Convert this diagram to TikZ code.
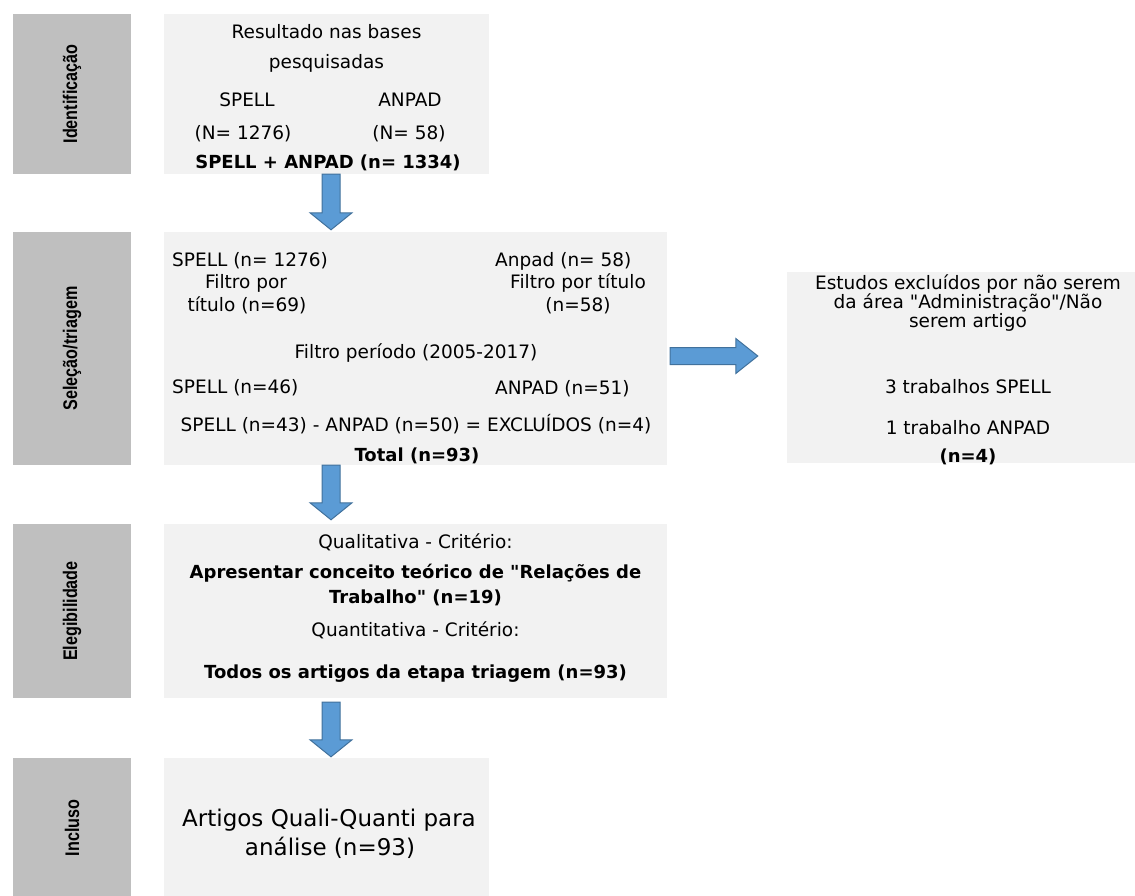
\documentclass[tikz,border=0pt]{standalone}
\usepackage{fontspec}
\setmainfont{DejaVu Sans}
\newfontfamily\bodyfont{DejaVu Sans}
\newfontfamily\narrowfont[FakeStretch=0.82]{Liberation Sans}
\usetikzlibrary{calc}

\definecolor{labelgray}{HTML}{BFBFBF}
\definecolor{panelgray}{HTML}{F2F2F2}
\definecolor{arrowfill}{HTML}{5B9BD5}
\definecolor{arrowline}{HTML}{41719C}

\tikzset{
  stagebox/.style={fill=labelgray, draw=none, inner sep=0pt},
  panel/.style={fill=panelgray, draw=none, inner sep=0pt},
  stagelabel/.style={rotate=90, inner sep=0pt, font=\narrowfont\bfseries\fontsize{19.7}{22}\selectfont},
  txt/.style={inner sep=0pt, text height=13.5pt, text depth=0pt, font=\bodyfont\fontsize{18.5}{22}\selectfont},
  txtb/.style={txt, font=\bodyfont\bfseries\fontsize{18}{22}\selectfont},
  txtbig/.style={inner sep=0pt, text height=16.8pt, text depth=0pt, font=\bodyfont\fontsize{23}{28}\selectfont},
  blockarrow/.style={fill=arrowfill, draw=arrowline, line width=1pt, line join=miter},
}

% seta larga para baixo: #1 topo, #2 ponta
\newcommand{\blockdown}[2]{%
  \draw[blockarrow] let \p1=#1, \p2=#2 in
    (\x1-9pt,\y1) -- (\x1+9pt,\y1) -- (\x1+9pt,\y2+17pt) -- (\x1+21pt,\y2+17pt)
    -- (\x1,\y2) -- (\x1-21pt,\y2+17pt) -- (\x1-9pt,\y2+17pt) -- cycle;}
% seta larga para a direita: #1 base, #2 ponta
\newcommand{\blockright}[2]{%
  \draw[blockarrow] let \p1=#1, \p2=#2 in
    (\x1,\y1-8.5pt) -- (\x2-22pt,\y1-8.5pt) -- (\x2-22pt,\y1-17.5pt) -- (\x2,\y1)
    -- (\x2-22pt,\y1+17.5pt) -- (\x2-22pt,\y1+8.5pt) -- (\x1,\y1+8.5pt) -- cycle;}

\begin{document}
\begin{tikzpicture}[x=1pt, y=-1pt]
  \useasboundingbox (0,0) rectangle (1135,895);

  % etapas (coluna esquerda)
  \node[stagebox, minimum width=118pt, minimum height=160pt] (s1) at (72,94) {};
  \node[stagebox, minimum width=118pt, minimum height=233pt] (s2) at (72,348.5) {};
  \node[stagebox, minimum width=118pt, minimum height=174pt] (s3) at (72,611) {};
  \node[stagebox, minimum width=118pt, minimum height=140pt] (s4) at (72,828) {};
  \node[stagelabel] (s1t) at (s1) {Identificação};
  \node[stagelabel] (s2t) at (s2) {Seleção/triagem};
  \node[stagelabel] (s3t) at (s3) {Elegibilidade};
  \node[stagelabel] (s4t) at (s4) {Incluso};

  % caixas de conteúdo
  \node[panel, minimum width=325pt, minimum height=160pt] (b1) at (326.5,94) {};
  \node[panel, minimum width=503pt, minimum height=233pt] (b2) at (415.5,348.5) {};
  \node[panel, minimum width=503pt, minimum height=174pt] (b3) at (415.5,611) {};
  \node[panel, minimum width=325pt, minimum height=140pt] (b4) at (326.5,828) {};
  \node[panel, minimum width=363pt, minimum height=191pt] (ex) at (968.5,367.5) {};

  % identificação
  \node[txt] (r1) at (326.5,32) {Resultado nas bases};
  \node[txt] (r2) at (326.5,62) {pesquisadas};
  \node[txt] (r3) at (247,100) {SPELL};
  \node[txt] (r4) at (410,100) {ANPAD};
  \node[txt] (r5) at (243,133) {(N= 1276)};
  \node[txt] (r6) at (409,133) {(N= 58)};
  \node[txtb] (r7) at (328,162) {SPELL + ANPAD (n= 1334)};

  % seleção/triagem
  \node[txt, anchor=west] (t1) at (172,260) {SPELL (n= 1276)};
  \node[txt] (t2) at (246,282) {Filtro por};
  \node[txt] (t3) at (247,305) {título (n=69)};
  \node[txt, anchor=west] (t4) at (495,260) {Anpad (n= 58)};
  \node[txt] (t5) at (578,282) {Filtro por título};
  \node[txt] (t6) at (578,305) {(n=58)};
  \node[txt] (t7) at (416,352) {Filtro período (2005-2017)};
  \node[txt, anchor=west] (t8) at (172,387) {SPELL (n=46)};
  \node[txt, anchor=west] (t9) at (495,388) {ANPAD (n=51)};
  \node[txt] (t10) at (416,425) {SPELL (n=43) - ANPAD (n=50) = EXCLUÍDOS (n=4)};
  \node[txtb] (t11) at (417,455) {Total (n=93)};

  % excluídos
  \node[txt] (e1) at (968,283) {Estudos excluídos por não serem};
  \node[txt] (e2) at (968,302) {da área "Administração"/Não};
  \node[txt] (e3) at (968,321) {serem artigo};
  \node[txt] (e4) at (968,387) {3 trabalhos SPELL};
  \node[txt] (e5) at (968,428) {1 trabalho ANPAD};
  \node[txtb] (e6) at (968,456) {(n=4)};

  % elegibilidade
  \node[txt] (q1) at (415.5,542) {Qualitativa - Critério:};
  \node[txtb] (q2) at (415.5,572) {Apresentar conceito teórico de "Relações de};
  \node[txtb] (q3) at (415.5,597) {Trabalho" (n=19)};
  \node[txt] (q4) at (415.5,630) {Quantitativa - Critério:};
  \node[txtb] (q5) at (415.5,672) {Todos os artigos da etapa triagem (n=93)};

  % incluso
  \node[txtbig] (f1) at (329,818) {Artigos Quali-Quanti para};
  \node[txtbig] (f2) at (330,847) {análise (n=93)};

  % setas
  \coordinate (ax) at (331,0);
  \coordinate (ay) at (0,356);
  \blockdown{(b1.south -| ax)}{($(b2.north -| ax)+(0,-2)$)}
  \blockdown{(b2.south -| ax)}{($(b3.north -| ax)+(0,-4)$)}
  \blockdown{($(b3.south -| ax)+(0,4)$)}{($(b4.north -| ax)+(0,-1)$)}
  \blockright{($(b2.east |- ay)+(3,0)$)}{($(ex.west |- ay)+(-29,0)$)}
\end{tikzpicture}
\end{document}
